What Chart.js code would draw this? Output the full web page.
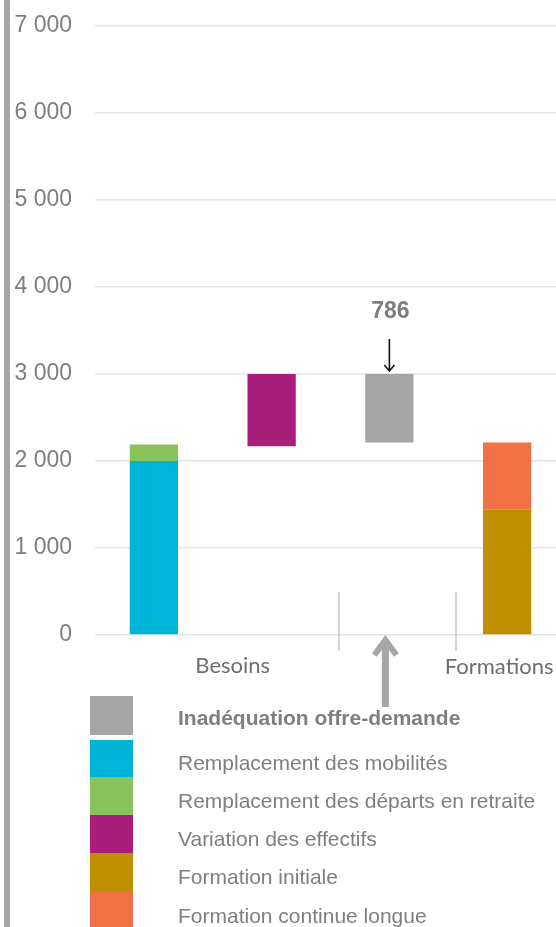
<!DOCTYPE html>
<html lang="fr">
<head>
<meta charset="utf-8">
<script src="https://cdn.jsdelivr.net/npm/chart.js@4.4.1/dist/chart.umd.min.js"></script>
<style>
    html, body { margin: 0; padding: 0; background: #fff; overflow: hidden; }
    #wrap { width: 566px; height: 927px; }
</style>
</head>
<body>
<div id="wrap"><canvas id="waterfallChart" width="566" height="927"></canvas></div>
<script>
// Columns of the waterfall
const categories = ['Remplacements', 'Variation', 'Ecart', 'Formations'];

// Series (floating bars: [start, end])
const inadequation = [null, null, [2214, 3000], null];
const remplacementMobilites = [[0, 2000], null, null, null];
const remplacementRetraites = [[2000, 2190], null, null, null];
const variationEffectifs = [null, [2170, 3000], null, null];
const formationInitiale = [null, null, null, [0, 1440]];
const formationContinue = [null, null, null, [1440, 2214]];

const seriesLabels = [
    'Inadéquation offre-demande',
    'Remplacement des mobilités',
    'Remplacement des départs en retraite',
    'Variation des effectifs',
    'Formation initiale',
    'Formation continue longue'
];
const seriesColors = ['#a5a5a5', '#00b4d6', '#89c35c', '#a91d7b', '#bf8f00', '#f07145'];

// Axis
const yTicks = [0, 1000, 2000, 3000, 4000, 5000, 6000, 7000];
const groupLabels = ['Besoins', 'Formations'];
const ecartLabel = '786';

const seriesData = [inadequation, remplacementMobilites, remplacementRetraites,
    variationEffectifs, formationInitiale, formationContinue];

function formatThousands(v) {
    return String(v).replace(/\B(?=(\d{3})+(?!\d))/g, ' ');
}

// Extra drawing: left rule, group labels, separators, arrows, legend
const decorations = {
    id: 'decorations',
    beforeDraw(chart) {
        const ctx = chart.ctx;
        ctx.save();
        ctx.fillStyle = '#a6a6a6';
        ctx.fillRect(4, 0, 6, chart.height);
        ctx.restore();
    },
    afterDraw(chart) {
        const ctx = chart.ctx;
        const x = chart.scales.x;
        const y = chart.scales.y;
        const base = y.getPixelForValue(0);
        ctx.save();

        // separators between columns
        ctx.strokeStyle = '#c8c8c8';
        ctx.lineWidth = 1.5;
        [1, 2].forEach(i => {
            const sx = Math.round((x.getPixelForValue(i) + x.getPixelForValue(i + 1)) / 2 + 8);
            ctx.beginPath();
            ctx.moveTo(sx, base - 43);
            ctx.lineTo(sx, base + 16);
            ctx.stroke();
        });

        // group labels
        ctx.fillStyle = '#6e6e6e';
        ctx.font = '22px Lato, "Open Sans", sans-serif';
        ctx.textAlign = 'center';
        ctx.textBaseline = 'middle';
        const besoinsX = (x.getPixelForValue(0) + x.getPixelForValue(1)) / 2 + 20;
        ctx.fillText(groupLabels[0], besoinsX, base + 31);
        ctx.fillText(groupLabels[1], x.getPixelForValue(3) - 8, base + 32);

        // gap value + down arrow
        const gap = inadequation[2];
        const cx = x.getPixelForValue(2);
        const topY = y.getPixelForValue(gap[1]);
        ctx.fillStyle = '#7f7f7f';
        ctx.font = 'bold 23px "Liberation Sans", Arial, sans-serif';
        ctx.fillText(ecartLabel, cx + 1, topY - 62);
        ctx.strokeStyle = '#111';
        ctx.lineWidth = 1.6;
        ctx.beginPath();
        ctx.moveTo(cx, topY - 35);
        ctx.lineTo(cx, topY - 3);
        ctx.moveTo(cx - 5, topY - 9);
        ctx.lineTo(cx, topY - 3);
        ctx.lineTo(cx + 5, topY - 9);
        ctx.stroke();

        // grey up arrow under the gap column
        const ux = cx - 4;
        ctx.strokeStyle = '#a6a6a6';
        ctx.lineWidth = 7;
        ctx.lineCap = 'butt';
        ctx.beginPath();
        ctx.moveTo(ux, base + 72);
        ctx.lineTo(ux, base + 6);
        ctx.stroke();
        ctx.lineWidth = 6;
        ctx.lineJoin = 'miter';
        ctx.beginPath();
        ctx.moveTo(ux - 11, base + 20);
        ctx.lineTo(ux, base + 5);
        ctx.lineTo(ux + 11, base + 20);
        ctx.stroke();

        // legend
        const boxes = [[696, 735], [740, 777], [777, 815], [815, 853], [853, 892], [892, 930]];
        ctx.textAlign = 'left';
        chart.data.datasets.forEach((ds, i) => {
            const [t, b] = boxes[i];
            ctx.fillStyle = ds.backgroundColor;
            ctx.fillRect(90, t, 43, b - t);
            ctx.fillStyle = '#7f7f7f';
            ctx.font = (i === 0 ? 'bold ' : '') + '21px "Liberation Sans", Arial, sans-serif';
            ctx.fillText(ds.label, 178, (t + b) / 2 + (i === 0 ? 4 : 6));
        });
        ctx.restore();
    }
};

const ctx = document.getElementById('waterfallChart').getContext('2d');
new Chart(ctx, {
    type: 'bar',
    data: {
        labels: categories,
        datasets: seriesData.map((data, i) => ({
            label: seriesLabels[i],
            data: data,
            backgroundColor: seriesColors[i],
            borderWidth: 0,
            barPercentage: 0.41,
            categoryPercentage: 1
        }))
    },
    options: {
        responsive: false,
        animation: false,
        layout: {
            padding: { top: 26, bottom: 292, left: 0, right: 0 }
        },
        plugins: {
            legend: { display: false },
            tooltip: { enabled: false }
        },
        scales: {
            x: {
                stacked: true,
                display: false
            },
            y: {
                stacked: false,
                min: 0,
                max: 7000,
                afterFit(scale) {
                    scale.width = 95;
                    scale.paddingTop = 0;
                    scale.paddingBottom = 0;
                },
                afterBuildTicks(scale) { scale.ticks = yTicks.map(v => ({ value: v })); },
                border: { display: false },
                grid: { color: '#e6e6e6', lineWidth: 1.5, drawTicks: false },
                ticks: {
                    padding: 23,
                    color: '#7f7f7f',
                    font: { family: '"Liberation Sans", Arial, sans-serif', size: 23 },
                    callback: v => formatThousands(v)
                }
            }
        }
    },
    plugins: [decorations]
});
</script>
</body>
</html>
